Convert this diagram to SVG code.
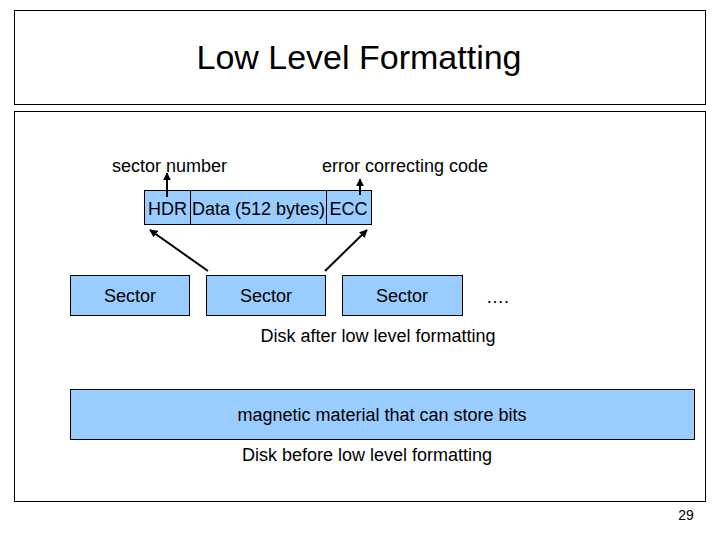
<svg xmlns="http://www.w3.org/2000/svg" width="720" height="540" viewBox="0 0 720 540">
<defs>
<style>
text{font-family:"Liberation Sans",Arial,sans-serif;fill:#000;}
.t18{font-size:18px;}
.frame{fill:#fff;stroke:#000;stroke-width:1;}
.blue{fill:#99CCFF;stroke:#000;stroke-width:1;}
.conn{stroke:#000;stroke-width:2;fill:none;marker-end:url(#ah);}
</style>
<marker id="ah" viewBox="0 0 10 10" refX="9" refY="5" markerWidth="4" markerHeight="4" orient="auto" markerUnits="strokeWidth">
<path d="M0,0 L10,5 L0,10 z" fill="#000"/>
</marker>
</defs>
<rect width="720" height="540" fill="#fff"/>
<g id="title">
<rect class="frame" x="14.5" y="10.5" width="691" height="94"/>
<text x="359" y="69" font-size="34" text-anchor="middle">Low Level Formatting</text>
</g>
<g id="content">
<rect class="frame" x="14.5" y="111.5" width="691" height="390"/>
</g>
<g id="label-sector-number"><text class="t18" x="112" y="172">sector number</text></g>
<g id="label-ecc"><text class="t18" x="322" y="172">error correcting code</text></g>
<g id="record">
<rect class="blue" x="144.5" y="190.5" width="227" height="34"/>
<line x1="190.5" y1="190.5" x2="190.5" y2="224.5" stroke="#000"/>
<line x1="326.5" y1="190.5" x2="326.5" y2="224.5" stroke="#000"/>
<text class="t18" x="167.5" y="215" text-anchor="middle">HDR</text>
<text class="t18" x="258.5" y="215" text-anchor="middle">Data (512 bytes)</text>
<text class="t18" x="348.5" y="215" text-anchor="middle">ECC</text>
</g>
<g id="sector1">
<rect class="blue" x="70.5" y="275.5" width="119" height="40"/>
<text class="t18" x="130" y="302" text-anchor="middle">Sector</text>
</g>
<g id="sector2">
<rect class="blue" x="206.5" y="275.5" width="119" height="40"/>
<text class="t18" x="266" y="302" text-anchor="middle">Sector</text>
</g>
<g id="sector3">
<rect class="blue" x="342.5" y="275.5" width="120" height="40"/>
<text class="t18" x="402" y="302" text-anchor="middle">Sector</text>
</g>
<g id="dots"><text class="t18" x="486" y="303">….</text></g>
<g id="label-after"><text class="t18" x="378" y="342" text-anchor="middle">Disk after low level formatting</text></g>
<g id="disk">
<rect class="blue" x="70.5" y="389.5" width="624" height="50"/>
<text class="t18" x="382" y="421" text-anchor="middle">magnetic material that can store bits</text>
</g>
<g id="label-before"><text class="t18" x="367" y="461" text-anchor="middle">Disk before low level formatting</text></g>
<g id="page"><text x="686" y="520" font-size="14" text-anchor="middle">29</text></g>
<g id="connectors">
<line class="conn" x1="167" y1="197" x2="167" y2="173"/>
<line class="conn" x1="360" y1="195" x2="360" y2="179"/>
<line class="conn" x1="208" y1="271" x2="150" y2="230"/>
<line class="conn" x1="325" y1="271" x2="367" y2="230"/>
</g>
</svg>
